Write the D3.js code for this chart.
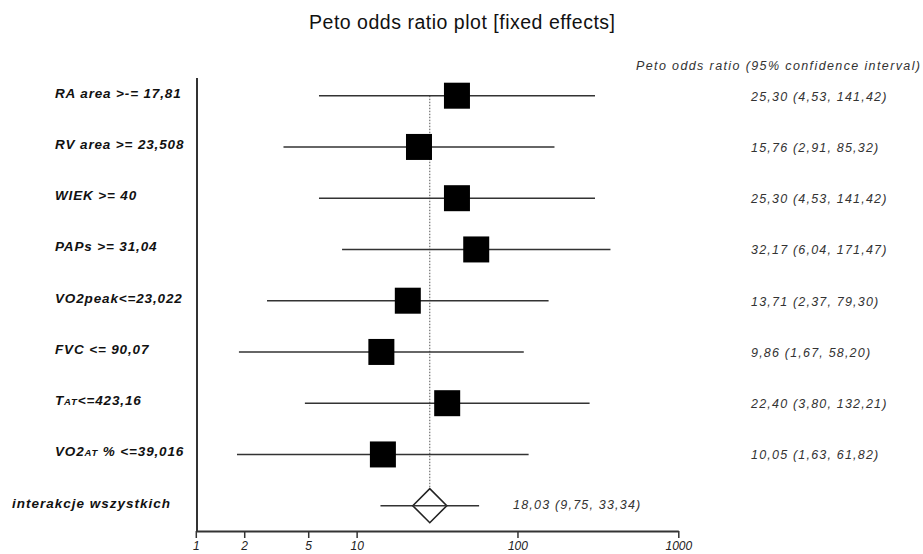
<!DOCTYPE html>
<html>
<head>
<meta charset="utf-8">
<script src="https://cdn.jsdelivr.net/npm/d3@7"></script>
<style>
  html, body { margin: 0; padding: 0; background: #fff; }
  svg { display: block; font-family: "Liberation Sans", Arial, sans-serif; }
</style>
</head>
<body>
<svg id="chart" width="923" height="554"></svg>
<script>
// Study rows: label pieces (small-caps parts flagged), Peto OR and 95% CI
const labels = [
  [["RA area >-= 17,81", false]],
  [["RV area >= 23,508", false]],
  [["WIEK >= 40", false]],
  [["PAPs >= 31,04", false]],
  [["VO2peak<=23,022", false]],
  [["FVC <= 90,07", false]],
  [["T", false], ["AT", true], ["<=423,16", false]],
  [["VO2", false], ["AT", true], [" % <=39,016", false]]
];
const oddsRatio = [25.30, 15.76, 25.30, 32.17, 13.71, 9.86, 22.40, 10.05];
const ciLower   = [4.53, 2.91, 4.53, 6.04, 2.37, 1.67, 3.80, 1.63];
const ciUpper   = [141.42, 85.32, 141.42, 171.47, 79.30, 58.20, 132.21, 61.82];

// Pooled (fixed effects) estimate
const pooledLabel = "interakcje wszystkich";
const pooledOR = 18.03, pooledLower = 9.75, pooledUpper = 33.34;

const tickValues = [1, 2, 5, 10, 100, 1000];
const title = "Peto odds ratio plot [fixed effects]";
const columnHeader = "Peto odds ratio (95% confidence interval)";

const fmt = v => v.toFixed(2).replace(".", ",");
const ciText = (o, l, u) => `${fmt(o)} (${fmt(l)}, ${fmt(u)})`;

const svg = d3.select("#chart");

// Marks and the printed axis use their own log scales
const xMark = d3.scaleLog().domain([1, 1000]).range([197.8, 751.9]);
const xAxisScale = d3.scaleLog().domain([1, 1000]).range([195.8, 678.3]);

const nRows = labels.length + 1;
const y = d3.scalePoint().domain(d3.range(nRows)).range([95.7, 505.7]);

// Title
svg.append("text")
  .attr("x", 462).attr("y", 29)
  .attr("text-anchor", "middle")
  .attr("font-size", 19.5)
  .attr("fill", "#111")
  .attr("textLength", 306)
  .attr("lengthAdjust", "spacing")
  .text(title);

// Column header
svg.append("text")
  .attr("x", 636).attr("y", 70)
  .attr("font-size", 12.5)
  .attr("font-style", "italic")
  .attr("fill", "#333")
  .attr("textLength", 284)
  .attr("lengthAdjust", "spacing")
  .text(columnHeader);

// Vertical axis line
svg.append("line")
  .attr("x1", 197).attr("x2", 197)
  .attr("y1", 78).attr("y2", 531)
  .attr("stroke", "#333").attr("stroke-width", 2);

// Horizontal log axis
const axisG = svg.append("g")
  .attr("transform", "translate(0,531)")
  .call(d3.axisBottom(xAxisScale)
    .tickValues(tickValues)
    .tickFormat(d3.format("d"))
    .tickSize(7)
    .tickSizeOuter(0));
axisG.select(".domain").attr("stroke", "#333").attr("stroke-width", 2);
axisG.selectAll(".tick line").attr("stroke", "#333").attr("stroke-width", 1.5);
axisG.selectAll(".tick text")
  .attr("y", 10)
  .attr("dy", "0.71em")
  .attr("font-size", 12)
  .attr("font-style", "italic")
  .attr("font-family", "Liberation Sans, Arial, sans-serif")
  .attr("fill", "#222");

// Reference line at pooled estimate
svg.append("line")
  .attr("x1", xMark(pooledOR)).attr("x2", xMark(pooledOR))
  .attr("y1", y(0)).attr("y2", y(nRows - 1) - 17)
  .attr("stroke", "#555").attr("stroke-width", 1)
  .attr("stroke-dasharray", "1.5,1.5");

// Study rows
const rows = svg.append("g").selectAll("g")
  .data(d3.range(labels.length))
  .join("g");

rows.append("line")
  .attr("x1", i => xMark(ciLower[i]))
  .attr("x2", i => xMark(ciUpper[i]))
  .attr("y1", i => y(i)).attr("y2", i => y(i))
  .attr("stroke", "#333").attr("stroke-width", 1.6);

const side = 26;
rows.append("rect")
  .attr("x", i => xMark(oddsRatio[i]) - side / 2)
  .attr("y", i => y(i) - side / 2)
  .attr("width", side).attr("height", side)
  .attr("fill", "#000");

const lab = rows.append("text")
  .attr("x", 55)
  .attr("y", i => y(i) + 2)
  .attr("font-size", 13.5)
  .attr("font-weight", "bold")
  .attr("font-style", "italic")
  .attr("letter-spacing", 0.85)
  .attr("fill", "#111");
lab.each(function(i) {
  const t = d3.select(this);
  labels[i].forEach(([s, small]) => {
    t.append("tspan").attr("font-size", small ? 9.5 : null).text(s);
  });
});

rows.append("text")
  .attr("x", 751)
  .attr("y", i => y(i) + 5)
  .attr("font-size", 12.5)
  .attr("font-style", "italic")
  .attr("letter-spacing", 1.2)
  .attr("fill", "#333")
  .text(i => ciText(oddsRatio[i], ciLower[i], ciUpper[i]));

// Pooled row
const py = y(nRows - 1);
svg.append("line")
  .attr("x1", xMark(pooledLower)).attr("x2", xMark(pooledUpper))
  .attr("y1", py).attr("y2", py)
  .attr("stroke", "#333").attr("stroke-width", 1.6);
const px = xMark(pooledOR);
svg.append("path")
  .attr("d", `M${px - 17},${py} L${px},${py - 17} L${px + 17},${py} L${px},${py + 17} Z`)
  .attr("fill", "#fff")
  .attr("stroke", "#222").attr("stroke-width", 1.6);
svg.append("line")
  .attr("x1", px - 17).attr("x2", px + 17)
  .attr("y1", py).attr("y2", py)
  .attr("stroke", "#333").attr("stroke-width", 1.6);
svg.append("text")
  .attr("x", 12).attr("y", py + 2)
  .attr("font-size", 13.5)
  .attr("font-weight", "bold")
  .attr("font-style", "italic")
  .attr("letter-spacing", 1)
  .attr("fill", "#111")
  .text(pooledLabel);
svg.append("text")
  .attr("x", 513).attr("y", py + 3)
  .attr("font-size", 12.5)
  .attr("font-style", "italic")
  .attr("letter-spacing", 1.2)
  .attr("fill", "#333")
  .text(ciText(pooledOR, pooledLower, pooledUpper));
</script>
</body>
</html>
